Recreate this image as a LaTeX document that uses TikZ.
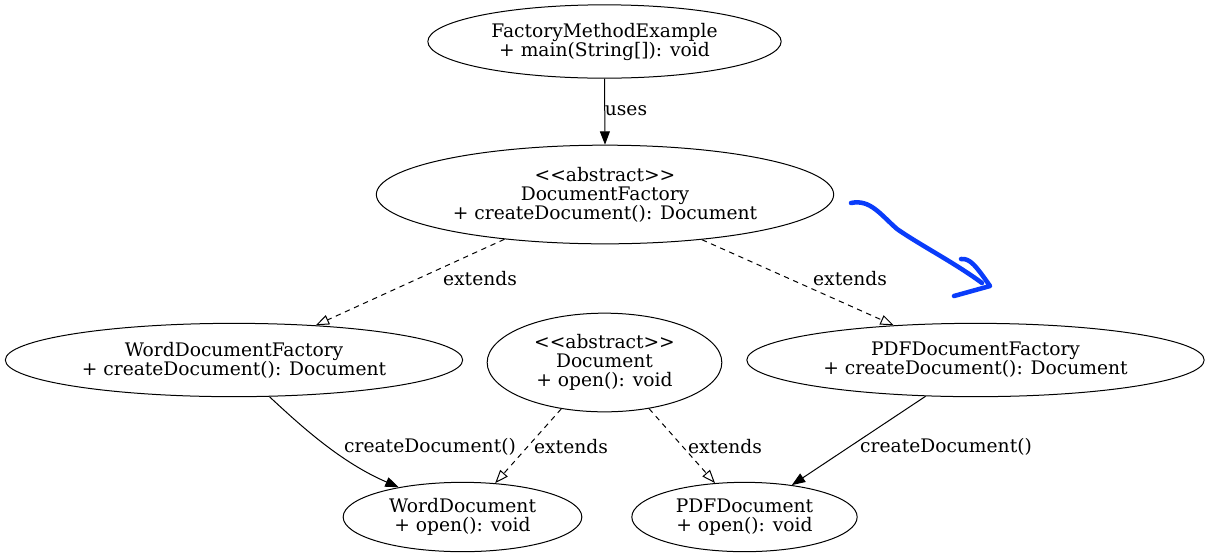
\documentclass[tikz,border=0pt]{standalone}
\usepackage{fontspec}
\setmainfont{DejaVu Serif}
\usetikzlibrary{arrows.meta,shapes.geometric}
\definecolor{penblue}{RGB}{10,60,250}

\begin{document}
\begin{tikzpicture}[x=0.75pt, y=-0.75pt, line width=0.75pt, every node/.style={font=\fontsize{14}{14.25}\selectfont}, cls/.style={draw,ellipse,align=center,inner sep=0pt}, call/.style={-{Triangle[length=10pt,width=7.5pt]}}, ext/.style={dash pattern=on 4pt off 3.5pt,-{Triangle[open,length=10pt,width=7.5pt]}}, lbl/.style={inner sep=1pt}]
\useasboundingbox (0,0) rectangle (1210,558);
\node[cls,minimum width=265pt,minimum height=55pt] (fme) at (604.5,41.5) {FactoryMethodExample\\+ main(String[]): void};
\node[cls,minimum width=343pt,minimum height=74pt] (df) at (605,194.5) {<{}<abstract>{}>\\DocumentFactory\\+ createDocument(): Document};
\node[cls,minimum width=343pt,minimum height=55pt] (wdf) at (234,360) {WordDocumentFactory\\+ createDocument(): Document};
\node[cls,minimum width=176pt,minimum height=74pt] (doc) at (604.5,362.5) {<{}<abstract>{}>\\Document\\+ open(): void};
\node[cls,minimum width=343pt,minimum height=55pt] (pdff) at (975.5,360) {PDFDocumentFactory\\+ createDocument(): Document};
\node[cls,minimum width=179pt,minimum height=52pt] (wd) at (462.5,517) {WordDocument\\+ open(): void};
\node[cls,minimum width=169pt,minimum height=52pt] (pd) at (744.5,517) {PDFDocument\\+ open(): void};
% edges
\draw[call] (fme.south) -- (df.north);
\draw[ext] (df.204) -- (wdf.23);
\draw[ext] (df.335) -- (pdff.157);
\draw[call] (wdf.314) .. controls (300,425) and (340,462) .. (wd.155);
\draw[ext] (doc.227) -- (wd.46);
\draw[ext] (doc.314) -- (pd.131);
\draw[call] (pdff.216) -- (pd.34);
% edge labels
\node[lbl] (l1) at (626,111) {uses};
\node[lbl] (l2) at (480,279) {extends};
\node[lbl] (l3) at (850,279) {extends};
\node[lbl] (l4) at (430,447) {createDocument()};
\node[lbl] (l5) at (571,447) {extends};
\node[lbl] (l6) at (725,447) {extends};
\node[lbl] (l7) at (946,447) {createDocument()};
% hand-drawn note
\draw[penblue,line width=3.4pt,line cap=round,line join=round] (851,203) .. controls (870,199) and (880,214) .. (897,229) .. controls (920,245) and (955,263) .. (982,283);
\draw[penblue,line width=3.4pt,line cap=round,line join=round] (961,259) .. controls (970,258) and (976,266) .. (990,286) -- (954,296);
\end{tikzpicture}
\end{document}
